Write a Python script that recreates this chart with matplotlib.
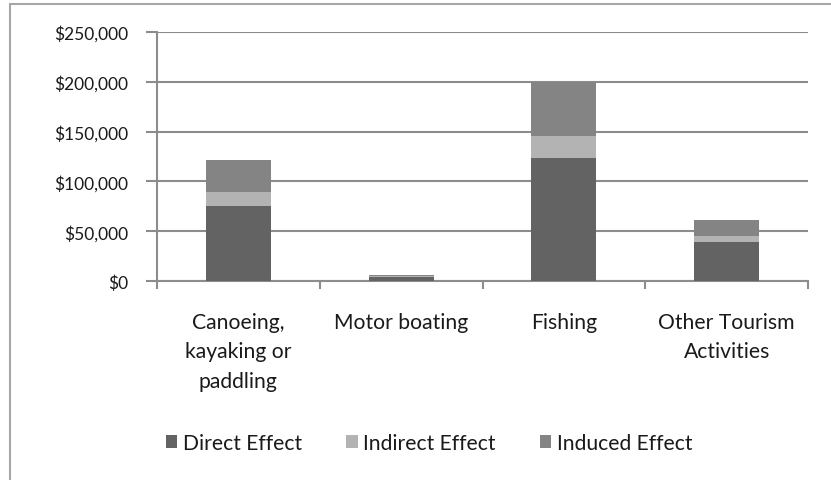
import matplotlib
matplotlib.use("Agg")
import matplotlib.pyplot as plt
from matplotlib.patches import Rectangle
from matplotlib.ticker import FuncFormatter, FixedLocator
import numpy as np

categories = ["Canoeing,\nkayaking or\npaddling", "Motor boating", "Fishing", "Other Tourism\nActivities"]
direct = [75000, 4000, 123500, 39000]
indirect = [14000, 800, 22500, 6000]
induced = [32500, 1500, 54000, 16000]
series_names = ["Direct Effect", "Indirect Effect", "Induced Effect"]
colors = ["#636363", "#b3b3b3", "#848484"]
y_ticks = [0, 50000, 100000, 150000, 200000, 250000]

plt.rcParams['font.family'] = ['Lato', 'DejaVu Sans']
fig = plt.figure(figsize=(8.31, 4.81), dpi=100)
W, H = 831, 481

# chart frame (extends beyond image on right/bottom)
fig.patches.append(Rectangle((10 / W, -0.5), 2, 1.5 - 5 / H, transform=fig.transFigure,
                             fill=False, edgecolor="#a6a6a6", linewidth=1.5))

ax = fig.add_axes([157 / W, 1 - 282 / H, (808 - 157) / W, (282 - 33) / H])
x = np.arange(len(categories))
bw = 0.4
gridc = "#8c8c8c"
fs = 15.2
fs_y = 12.5
tc = "#1a1a1a"
bottom = np.zeros(len(categories))
for vals, name, c in zip([direct, indirect, induced], series_names, colors):
    ax.bar(x, vals, bw, bottom=bottom, color=c, label=name, zorder=3)
    bottom = bottom + np.array(vals)

ax.set_xlim(-0.5, len(categories) - 0.5)
ax.set_ylim(0, 250000)
ax.set_yticks(y_ticks)
ax.yaxis.set_major_formatter(FuncFormatter(lambda v, p: "${:,.0f}".format(v)))
ax.grid(axis="y", color=gridc, linewidth=1.5, zorder=0)
for s in ["top", "right"]:
    ax.spines[s].set_visible(False)
for s in ["left", "bottom"]:
    ax.spines[s].set_color(gridc)
    ax.spines[s].set_linewidth(1.5)

ax.set_xticks(x)
ax.set_xticklabels(categories, fontsize=fs, color=tc, linespacing=1.62)
ax.tick_params(axis="x", which="major", length=0, pad=22)
ax.xaxis.set_minor_locator(FixedLocator(np.arange(len(categories) + 1) - 0.5))
ax.tick_params(axis="x", which="minor", length=6, width=1.5, color=gridc)
ax.tick_params(axis="y", length=8, width=1.5, color=gridc, labelsize=fs_y,
               labelcolor=tc, pad=13)

leg = fig.legend(loc="center", bbox_to_anchor=(429 / W, 1 - 444 / H), ncol=3,
                 frameon=False, fontsize=fs, handlelength=0.55, handleheight=0.55,
                 handletextpad=0.25, columnspacing=2.1)
for t in leg.get_texts():
    t.set_color(tc)

fig.savefig("out.png", dpi=100)
